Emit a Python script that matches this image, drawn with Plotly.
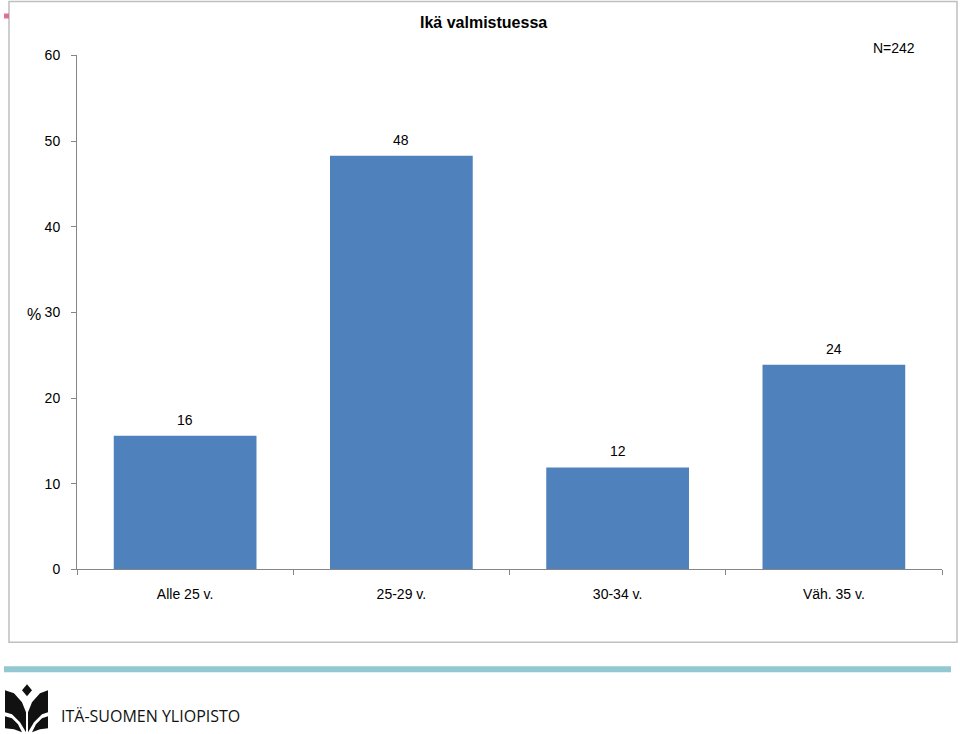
import plotly.graph_objects as go

categories = ["Alle 25 v.", "25-29 v.", "30-34 v.", "Väh. 35 v."]
values = [15.6, 48.3, 11.9, 23.9]
labels = ["16", "48", "12", "24"]
y_ticks = [0, 10, 20, 30, 40, 50, 60]

W, H = 960, 734
# vertical compensation for the observed rendering offset/scale
OFF, SC = 7.5, 0.9785
def px(x):
    return x / W
def py(y):
    return 1 - ((y - OFF) / SC) / H

FONT = "Liberation Sans, Arial, sans-serif"

fig = go.Figure()
fig.add_trace(go.Bar(
    x=categories, y=values,
    marker=dict(color="#4F81BD", line=dict(width=0)),
))

annotations = []
for c, v, t in zip(categories, values, labels):
    annotations.append(dict(x=c, y=v, text=t, xref="x", yref="y", showarrow=False,
                            yanchor="bottom", yshift=6,
                            font=dict(family=FONT, size=14, color="#000000")))

shapes = []
shapes.append(dict(type="rect", xref="paper", yref="paper",
                   x0=px(9), x1=px(957), y0=py(642), y1=py(1),
                   line=dict(color="#BFBFBF", width=1.5), fillcolor="rgba(0,0,0,0)", layer="below"))
shapes.append(dict(type="rect", xref="paper", yref="paper",
                   x0=px(4), x1=px(9), y0=py(18), y1=py(13),
                   line=dict(width=0), fillcolor="#E0709A"))
shapes.append(dict(type="rect", xref="paper", yref="paper",
                   x0=px(4), x1=px(951), y0=py(672), y1=py(666),
                   line=dict(width=0), fillcolor="#93C8D2"))

def path(points):
    return "M " + " L ".join(f"{px(x):.5f},{py(y):.5f}" for x, y in points) + " Z"

logo_parts = [
    [(27, 684), (32, 690), (27, 696), (22, 690)],
    [(5, 690), (14, 693), (22, 702), (26, 712), (26, 732), (20, 722), (12, 714), (5, 712)],
    [(48, 690), (40, 693), (32, 702), (28, 712), (28, 732), (34, 722), (42, 714), (48, 712)],
    [(5, 716), (12, 718), (18, 724), (22, 732), (14, 729), (5, 728)],
    [(48, 716), (42, 718), (36, 724), (32, 732), (40, 729), (48, 728)],
]
for p in logo_parts:
    shapes.append(dict(type="path", xref="paper", yref="paper", path=path(p),
                       line=dict(width=0), fillcolor="#111111"))

annotations += [
    dict(text="<b>Ikä valmistuessa</b>", x=px(483), y=py(22), xref="paper", yref="paper",
         showarrow=False, font=dict(family=FONT, size=16, color="#000000"), xanchor="center", yanchor="middle"),
    dict(text="N=242", x=px(917), y=py(48), xref="paper", yref="paper",
         showarrow=False, font=dict(family=FONT, size=14, color="#000000"), xanchor="right", yanchor="middle"),
    dict(text="%", x=px(43), y=py(314), xref="paper", yref="paper",
         showarrow=False, font=dict(family=FONT, size=16, color="#000000"), xanchor="right", yanchor="middle"),
    dict(text="ITÄ-SUOMEN YLIOPISTO", x=px(59), y=py(716), xref="paper", yref="paper",
         showarrow=False, font=dict(family="Open Sans, sans-serif", size=16, color="#111111"),
         xanchor="left", yanchor="middle"),
]

fig.update_layout(
    width=W, height=H,
    margin=dict(l=0, r=0, t=0, b=0),
    paper_bgcolor="#FFFFFF", plot_bgcolor="#FFFFFF",
    showlegend=False,
    bargap=0.34,
    shapes=shapes,
    annotations=annotations,
    font=dict(family=FONT, size=14, color="#000000"),
    xaxis=dict(
        domain=[px(77), px(942)],
        type="category", range=[-0.5, 3.5],
        showline=True, linecolor="#868686", linewidth=1,
        ticks="outside", tickson="boundaries", ticklen=5, tickcolor="#868686",
        showgrid=False, zeroline=False,
        tickfont=dict(family=FONT, size=14, color="#000000"),
        ticklabelstandoff=12,
    ),
    yaxis=dict(
        domain=[py(569), py(55)],
        range=[0, 60], tickvals=y_ticks,
        showline=True, linecolor="#868686", linewidth=1,
        ticks="outside", ticklen=5, tickcolor="#868686",
        showgrid=False, zeroline=False,
        tickfont=dict(family=FONT, size=14, color="#000000"),
        ticklabelstandoff=8,
    ),
)

fig.write_html("out.html")
